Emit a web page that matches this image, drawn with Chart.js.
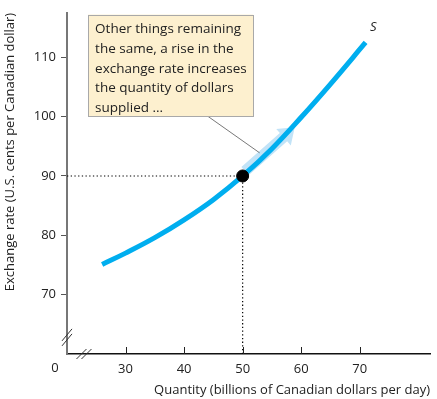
<!DOCTYPE html>
<html>
<head>
<meta charset="utf-8">
<script src="https://cdn.jsdelivr.net/npm/chart.js@4"></script>
<style>
  html, body { margin: 0; padding: 0; background: #ffffff; }
  #wrap { width: 437px; height: 399px; }
</style>
</head>
<body>
<div id="wrap"><canvas id="c" width="437" height="399"></canvas></div>
<script>
// ---- Data ----
const supplyQuantity = [26, 30, 35, 40, 45, 50, 55, 60, 65, 71];
const supplyRate     = [75.1, 77.0, 79.6, 82.6, 86.0, 90, 94.6, 99.9, 105.5, 112.5];
const equilibriumQuantity = 50;
const equilibriumRate = 90;
const xTickValues = [30, 40, 50, 60, 70];
const yTickValues = [70, 80, 90, 100, 110];
const xAxisTitle = 'Quantity (billions of Canadian dollars per day)';
const yAxisTitle = 'Exchange rate (U.S. cents per Canadian dollar)';
const curveLabel = 'S';
const noteLines = [
  'Other things remaining',
  'the same, a rise in the',
  'exchange rate increases',
  'the quantity of dollars',
  'supplied ...'
];

const FONT = '"Open Sans", Lato, sans-serif';
const BLUE = '#00aeef';

const supplyPoints = supplyQuantity.map((q, i) => ({ x: q, y: supplyRate[i] }));

const overlay = {
  id: 'overlay',
  beforeDatasetsDraw(chart) {
    const { ctx, scales: { x, y } } = chart;
    // light blue movement arrow along the curve
    const x0 = x.getPixelForValue(50.4), y0 = y.getPixelForValue(90.8);
    const x1 = x.getPixelForValue(58.9), y1 = y.getPixelForValue(98.2);
    const ang = Math.atan2(y1 - y0, x1 - x0);
    const len = Math.hypot(x1 - x0, y1 - y0);
    const headL = 15, shaftW = 5.5, headW = 11;
    ctx.save();
    ctx.translate(x0, y0);
    ctx.rotate(ang);
    ctx.fillStyle = '#c2e3f7';
    ctx.beginPath();
    ctx.moveTo(0, -shaftW);
    ctx.lineTo(len - headL, -shaftW);
    ctx.lineTo(len - headL, -headW);
    ctx.lineTo(len, 0);
    ctx.lineTo(len - headL, headW);
    ctx.lineTo(len - headL, shaftW);
    ctx.lineTo(0, shaftW);
    ctx.closePath();
    ctx.fill();
    ctx.restore();
  },
  afterDraw(chart) {
    const { ctx, scales: { x, y }, chartArea } = chart;
    ctx.save();
    // inward tick marks on the x axis
    ctx.strokeStyle = '#222';
    ctx.lineWidth = 1;
    xTickValues.forEach(v => {
      const px = Math.round(x.getPixelForValue(v)) + 0.5;
      ctx.beginPath();
      ctx.moveTo(px, chartArea.bottom);
      ctx.lineTo(px, chartArea.bottom - 7);
      ctx.stroke();
    });
    // axis breaks
    ctx.strokeStyle = '#333';
    ctx.lineWidth = 1;
    const bx = chartArea.left, by = y.getPixelForValue(62.8);
    [-2.5, 2.5].forEach(o => {
      ctx.beginPath();
      ctx.moveTo(bx - 5, by + 6 + o);
      ctx.lineTo(bx + 5, by - 6 + o);
      ctx.stroke();
    });
    const cx = x.getPixelForValue(22.9), cy = chartArea.bottom;
    [-2.5, 2.5].forEach(o => {
      ctx.beginPath();
      ctx.moveTo(cx - 5 + o, cy + 5);
      ctx.lineTo(cx + 5 + o, cy - 5);
      ctx.stroke();
    });
    // origin label
    ctx.fillStyle = '#222';
    ctx.font = '13px ' + FONT;
    ctx.textAlign = 'center';
    ctx.textBaseline = 'middle';
    ctx.fillText('0', 55, x.top + 14);
    // curve label S
    ctx.font = 'italic 13px ' + FONT;
    ctx.fillText(curveLabel, x.getPixelForValue(72.3), y.getPixelForValue(115.1));
    // leader line
    ctx.strokeStyle = '#555';
    ctx.lineWidth = 0.8;
    ctx.beginPath();
    ctx.moveTo(x.getPixelForValue(44.0), y.getPixelForValue(100.1));
    ctx.lineTo(x.getPixelForValue(52.9), y.getPixelForValue(93.9));
    ctx.stroke();
    // note box
    const left = x.getPixelForValue(23.6), right = x.getPixelForValue(51.8);
    const top = y.getPixelForValue(117.2), bottom = y.getPixelForValue(100.1);
    ctx.fillStyle = '#fdf0cf';
    ctx.fillRect(left, top, right - left, bottom - top);
    ctx.strokeStyle = '#a9a9a9';
    ctx.lineWidth = 1;
    ctx.strokeRect(Math.round(left) + 0.5, Math.round(top) + 0.5, Math.round(right - left), Math.round(bottom - top));
    ctx.fillStyle = '#222';
    ctx.font = '13.5px ' + FONT;
    ctx.textAlign = 'left';
    ctx.textBaseline = 'middle';
    noteLines.forEach((t, i) => ctx.fillText(t, left + 7, top + 15 + i * 19.6));
    ctx.restore();
  }
};

new Chart(document.getElementById('c'), {
  type: 'scatter',
  data: {
    datasets: [
      {
        label: 'equilibrium',
        data: [{ x: equilibriumQuantity, y: equilibriumRate }],
        pointRadius: 6,
        pointBackgroundColor: '#000',
        pointBorderColor: '#000',
        clip: false
      },
      {
        label: 'S',
        type: 'line',
        data: supplyPoints,
        borderColor: BLUE,
        borderWidth: 5,
        pointRadius: 0,
        tension: 0.4,
        fill: false,
        clip: false
      },
      {
        label: 'h',
        type: 'line',
        data: [{ x: 20, y: equilibriumRate }, { x: equilibriumQuantity, y: equilibriumRate }],
        borderColor: '#000',
        borderWidth: 1.2,
        borderDash: [1.3, 2.4],
        pointRadius: 0
      },
      {
        label: 'v',
        type: 'line',
        data: [{ x: equilibriumQuantity, y: 60 }, { x: equilibriumQuantity, y: equilibriumRate }],
        borderColor: '#000',
        borderWidth: 1.2,
        borderDash: [1.3, 2.4],
        pointRadius: 0
      }
    ]
  },
  options: {
    responsive: false,
    animation: false,
    devicePixelRatio: 1,
    layout: { padding: { top: 5, right: 2, left: 0, bottom: 0 } },
    plugins: { legend: { display: false }, tooltip: { enabled: false } },
    scales: {
      x: {
        type: 'linear',
        min: 20,
        max: 82,
        afterBuildTicks: s => { s.ticks = xTickValues.map(v => ({ value: v })); },
        afterFit: s => { s.height = 45; },
        border: { display: true, color: '#111', width: 1.5 },
        grid: { drawOnChartArea: false, drawTicks: false },
        ticks: { padding: 7, color: '#222', font: { family: FONT, size: 13 } },
        title: {
          display: true, text: xAxisTitle, align: 'end', color: '#222',
          font: { family: FONT, size: 13 }, padding: { top: 0, bottom: 1 }
        }
      },
      y: {
        type: 'linear',
        min: 60,
        max: 117.5,
        afterBuildTicks: s => { s.ticks = yTickValues.map(v => ({ value: v })); },
        afterFit: s => { s.width = 67; },
        border: { display: true, color: '#777', width: 2 },
        grid: { drawOnChartArea: false, drawTicks: true, tickLength: 6, color: '#555', lineWidth: 1 },
        ticks: { padding: 5, color: '#222', font: { family: FONT, size: 13 } },
        title: {
          display: true, text: yAxisTitle, align: 'end', color: '#222',
          font: { family: FONT, size: 13 }, padding: { top: 2, bottom: 0 }
        }
      }
    }
  },
  plugins: [overlay]
});
</script>
</body>
</html>
